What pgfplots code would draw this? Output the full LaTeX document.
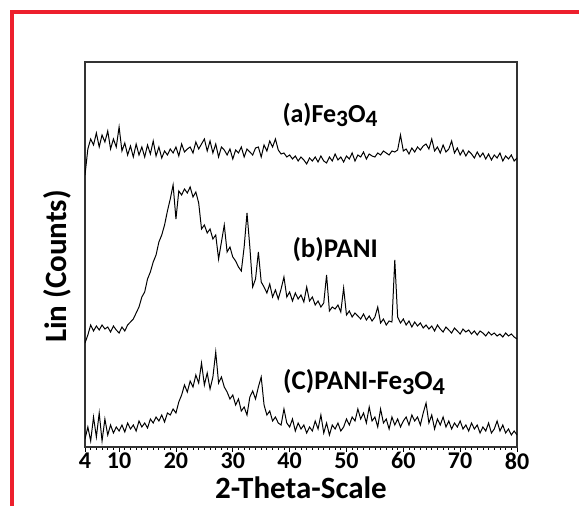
\documentclass[border=0pt]{standalone}
\usepackage{pgfplots}
\pgfplotsset{compat=1.18}
\usepackage{fontspec}
\setmainfont{Carlito}
\definecolor{frame}{RGB}{237,32,45}
\newcommand{\sub}[1]{\raisebox{-0.35ex}{\fontsize{0.9em}{1em}\selectfont #1}}
\begin{document}
\begin{tikzpicture}[x=1bp,y=1bp]
\useasboundingbox (0,0) rectangle (579,506);
\fill[frame] (10,492) rectangle (579,496);
\fill[frame] (10,0) rectangle (14,496);
\begin{axis}[
  at={(85bp,59bp)}, anchor=south west,
  scale only axis, width=432bp, height=385bp,
  xmin=4, xmax=80, ymin=0, ymax=385,
  xtick={4,10,20,30,40,50,60,70,80},
  minor xtick={4,5,...,80},
  ytick=\empty,
  xtick pos=bottom, tick align=outside,
  major tick length=5bp, minor tick length=3bp,
  every tick/.style={black, line width=0.8pt},
  axis line style={black!80, line width=1.1pt},
  /pgf/number format/assume math mode=true,
  tick label style={font=\fontsize{24bp}{26bp}\selectfont\bfseries},
  xticklabel style={yshift=3bp},
  xlabel={2-Theta-Scale},
  ylabel={Lin (Counts)},
  label style={font=\fontsize{31bp}{34bp}\selectfont\bfseries},
  xlabel style={yshift=-1bp},
  ylabel style={yshift=5bp, xshift=-12bp},
  clip=true,
]
\addplot[black, line width=1.0pt] coordinates {
(4,272)(4.5,298)(5,308)(5.5,302)(6,314)(6.5,300)(7,312)(7.5,305)(8,316)(8.5,298)
(9,308)(9.5,300)(10,320)(10.5,296)(11,304)(11.5,292)(12,301)(12.5,290)(13,303)(13.5,292)
(14,300)(14.5,290)(15,302)(15.5,293)(16,306)(16.5,291)(17,300)(17.5,289)(18,296)(18.5,292)
(19,298)(19.5,294)(20,300)(20.5,291)(21,303)(21.5,295)(22,298)(22.5,300)(23,294)(23.5,305)
(24,298)(24.5,303)(25,308)(25.5,296)(26,306)(26.5,294)(27,303)(27.5,290)(28,300)(28.5,297)
(29,292)(29.5,298)(30,288)(30.5,297)(31,294)(31.5,300)(32,290)(32.5,298)(33,295)(33.5,292)
(34,299)(34.5,300)(35,290)(35.5,302)(36,296)(36.5,306)(37,300)(37.5,308)(38,297)(38.5,293)
(39,294)(39.5,290)(40,292)(40.5,288)(41,291)(41.5,286)(42,290)(42.5,287)(43,283)(43.5,289)
(44,286)(44.5,290)(45,285)(45.5,291)(46,286)(46.5,284)(47,290)(47.5,286)(48,293)(48.5,287)
(49,290)(49.5,285)(50,291)(50.5,288)(51,294)(51.5,286)(52,292)(52.5,290)(53,295)(53.5,288)
(54,293)(54.5,291)(55,290)(55.5,294)(56,292)(56.5,296)(57,294)(57.5,292)(58,296)(58.5,295)
(59,297)(59.5,312)(60,296)(60.5,298)(61,293)(61.5,299)(62,295)(62.5,300)(63,297)(63.5,301)
(64,303)(64.5,298)(65,308)(65.5,296)(66,300)(66.5,294)(67,302)(67.5,295)(68,298)(68.5,306)
(69,294)(69.5,299)(70,292)(70.5,297)(71,291)(71.5,296)(72,293)(72.5,289)(73,295)(73.5,290)
(74,294)(74.5,288)(75,293)(75.5,287)(76,292)(76.5,289)(77,294)(77.5,286)(78,291)(78.5,288)
(79,292)(79.5,286)(80,289)
};
\addplot[black, line width=1.0pt] coordinates {
(4,104)(4.5,112)(5,122)(5.5,116)(6,121)(6.5,117)(7,122)(7.5,118)(8,120)(8.5,115)
(9,121)(9.5,117)(10,114)(10.5,120)(11,116)(11.5,122)(12,125)(12.5,128)(13,134)(13.5,140)
(14,150)(14.5,155)(15,168)(15.5,175)(16,185)(16.5,192)(17,205)(17.5,212)(18,222)(18.5,236)
(19,248)(19.5,262)(20,228)(20.5,256)(21,252)(21.5,258)(22,254)(22.5,260)(23,250)(23.5,255)
(24,244)(24.5,218)(25,222)(25.5,214)(26,218)(26.5,208)(27,212)(27.5,188)(28,205)(28.5,222)
(29,195)(29.5,200)(30,190)(30.5,186)(31,180)(31.5,176)(32,200)(32.5,234)(33,200)(33.5,160)
(34,168)(34.5,195)(35,165)(35.5,160)(36,154)(36.5,163)(37,150)(37.5,157)(38,148)(38.5,158)
(39,170)(39.5,150)(40,155)(40.5,146)(41,154)(41.5,148)(42,152)(42.5,145)(43,160)(43.5,146)
(44,150)(44.5,142)(45,146)(45.5,140)(46,144)(46.5,172)(47,136)(47.5,140)(48,138)(48.5,142)
(49,135)(49.5,159)(50,132)(50.5,136)(51,130)(51.5,134)(52,131)(52.5,128)(53,133)(53.5,127)
(54,131)(54.5,126)(55,130)(55.5,140)(56,124)(56.5,128)(57,122)(57.5,126)(58,125)(58.5,187)
(59,130)(59.5,124)(60,128)(60.5,122)(61,126)(61.5,120)(62,125)(62.5,121)(63,124)(63.5,119)
(64,122)(64.5,118)(65,121)(65.5,116)(66,122)(66.5,118)(67,115)(67.5,120)(68,117)(68.5,114)
(69,119)(69.5,116)(70,113)(70.5,118)(71,115)(71.5,117)(72,113)(72.5,116)(73,112)(73.5,116)
(74,114)(74.5,111)(75,115)(75.5,112)(76,114)(76.5,111)(77,113)(77.5,110)(78,114)(78.5,111)
(79,113)(79.5,110)(80,108)
};
\addplot[black, line width=1.0pt] coordinates {
(4,8)(4.5,20)(5,6)(5.5,30)(6,10)(6.5,34)(7,6)(7.5,28)(8,12)(8.5,22)
(9,14)(9.5,20)(10,16)(10.5,22)(11,15)(11.5,24)(12,18)(12.5,22)(13,16)(13.5,26)
(14,20)(14.5,24)(15,19)(15.5,28)(16,24)(16.5,30)(17,26)(17.5,32)(18,25)(18.5,34)
(19,32)(19.5,38)(20,34)(20.5,45)(21,52)(21.5,62)(22,55)(22.5,66)(23,60)(23.5,72)
(24,64)(24.5,84)(25,62)(25.5,74)(26,58)(26.5,70)(27,95)(27.5,64)(28,70)(28.5,60)
(29,55)(29.5,48)(30,52)(30.5,42)(31,48)(31.5,36)(32,40)(32.5,32)(33,50)(33.5,56)
(34,48)(34.5,60)(35,70)(35.5,42)(36,32)(36.5,36)(37,26)(37.5,30)(38,24)(38.5,22)
(39,38)(39.5,24)(40,20)(40.5,28)(41,16)(41.5,24)(42,18)(42.5,22)(43,14)(43.5,20)
(44,16)(44.5,26)(45,18)(45.5,32)(46,14)(46.5,24)(47,12)(47.5,22)(48,18)(48.5,24)
(49,16)(49.5,20)(50,28)(50.5,22)(51,30)(51.5,26)(52,38)(52.5,28)(53,34)(53.5,24)
(54,40)(54.5,26)(55,30)(55.5,20)(56,38)(56.5,24)(57,28)(57.5,18)(58,30)(58.5,22)
(59,28)(59.5,20)(60,26)(60.5,30)(61,22)(61.5,32)(62,26)(62.5,30)(63,22)(63.5,34)
(64,44)(64.5,24)(65,32)(65.5,18)(66,28)(66.5,22)(67,30)(67.5,20)(68,26)(68.5,18)
(69,24)(69.5,20)(70,26)(70.5,18)(71,22)(71.5,16)(72,24)(72.5,18)(73,22)(73.5,14)
(74,20)(74.5,16)(75,24)(75.5,14)(76,18)(76.5,26)(77,16)(77.5,22)(78,14)(78.5,18)
(79,12)(79.5,16)(80,12)
};
\node[font=\fontsize{26bp}{28bp}\selectfont\bfseries] at (axis cs:47.1,332) {(a)Fe\sub{3}O\sub{4}};
\node[font=\fontsize{27bp}{28bp}\selectfont\bfseries] at (axis cs:48.0,197) {(b)PANI};
\node[font=\fontsize{27bp}{28bp}\selectfont\bfseries] at (axis cs:53.1,65) {(C)PANI-Fe\sub{3}O\sub{4}};
\end{axis}
\end{tikzpicture}
\end{document}
